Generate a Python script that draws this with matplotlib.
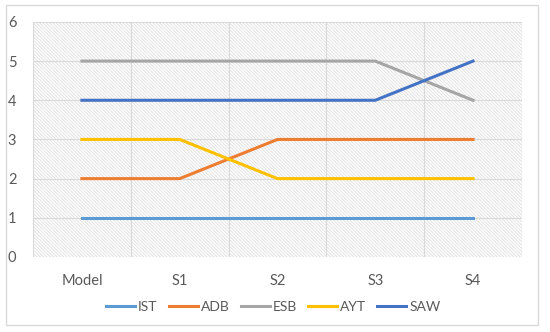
import numpy as np
import matplotlib.pyplot as plt
from matplotlib.patches import Rectangle

plt.rcParams['font.family'] = ['Lato', 'DejaVu Sans']
plt.rcParams['hatch.color'] = '#dedede'
plt.rcParams['hatch.linewidth'] = 0.6

categories = ['Model', 'S1', 'S2', 'S3', 'S4']
series_names = ['IST', 'ADB', 'ESB', 'AYT', 'SAW']
ist = [1, 1, 1, 1, 1]
adb = [2, 2, 3, 3, 3]
esb = [5, 5, 5, 5, 4]
ayt = [3, 3, 2, 2, 2]
saw = [4, 4, 4, 4, 5]
colors = ['#5B9BD5', '#ED7D31', '#A5A5A5', '#FFC000', '#4472C4']

fig = plt.figure(figsize=(5.5, 3.32), dpi=100)
# outer chart border
fig.patches.append(Rectangle((0.011, 0.02), 0.967, 0.965, transform=fig.transFigure,
                             fill=False, edgecolor='#d9d9d9', linewidth=1))
ax = fig.add_axes([0.06, 0.226, 0.889, 0.708])

x = np.arange(len(categories))
ax.set_xlim(-0.5, len(categories) - 0.5)
ax.set_ylim(0, 6)

# hatched plot area
ax.add_patch(Rectangle((-0.5, 0), len(categories), 6, facecolor='white',
                       hatch='\\' * 10, edgecolor='#dedede', linewidth=0, zorder=0))

for yv in range(0, 7):
    ax.axhline(yv, color='#d9d9d9', linewidth=0.8, zorder=1)
for xv in np.arange(-0.5, len(categories), 1):
    ax.axvline(xv, color='#d9d9d9', linewidth=0.8, zorder=1)

for vals, name, c in zip([ist, adb, esb, ayt, saw], series_names, colors):
    ax.plot(x, vals, color=c, linewidth=2.2, label=name, zorder=3)

for s in ax.spines.values():
    s.set_visible(False)
ax.set_xticks(x)
ax.set_xticklabels(categories)
ax.set_yticks(range(0, 7))
ax.tick_params(length=0, colors='#595959', labelsize=10.5)
ax.tick_params(axis='x', pad=12)
ax.tick_params(axis='y', pad=12)

fig.legend(loc='center', bbox_to_anchor=(0.497, 0.075), ncol=5, frameon=False,
           fontsize=10, handlelength=2.1, columnspacing=0.8, handletextpad=0.2,
           labelcolor='#595959')

plt.savefig('out.png', dpi=100)
